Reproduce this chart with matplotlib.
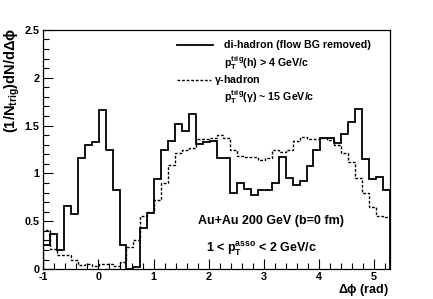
import numpy as np
import matplotlib
matplotlib.use('Agg')
import matplotlib.pyplot as plt
from matplotlib.ticker import MultipleLocator
from matplotlib.lines import Line2D

plt.rcParams['font.family'] = 'Liberation Sans'
plt.rcParams['font.weight'] = 'bold'
plt.rcParams['mathtext.fontset'] = 'custom'
plt.rcParams['mathtext.rm'] = 'Liberation Sans:bold'
plt.rcParams['mathtext.it'] = 'Liberation Sans:bold'
plt.rcParams['mathtext.bf'] = 'Liberation Sans:bold'
plt.rcParams['axes.unicode_minus'] = False

# 50 bins over [-1, 2pi-1]
n_bins = 50
edges = np.linspace(-1.0, 2 * np.pi - 1.0, n_bins + 1)

# di-hadron (flow BG removed)
dihadron = [0.25, 0.37, 0.20, 0.66, 0.58, 1.16, 1.30, 1.33, 1.66, 1.245,
            0.83, 0.25, 0.005, 0.025, 0.425, 0.59, 0.94, 1.25, 1.34, 1.52,
            1.44, 1.62, 1.31, 1.325, 1.34, 1.165, 1.165, 0.80, 0.90, 0.84,
            0.77, 0.83, 0.83, 0.90, 1.175, 0.95, 0.88, 0.92, 1.08, 1.245,
            1.37, 1.37, 1.32, 1.41, 1.54, 1.67, 1.15, 0.94, 0.96, 0.83]

# gamma-hadron
gamma_hadron = [0.41, 0.21, 0.15, 0.15, 0.10, 0.04, 0.05, 0.03, 0.05, 0.05,
                0.03, 0.07, 0.23, 0.30, 0.56, 0.60, 0.72, 0.90, 1.09, 1.21,
                1.24, 1.27, 1.36, 1.36, 1.37, 1.40, 1.37, 1.25, 1.18, 1.17,
                1.175, 1.14, 1.16, 1.24, 1.22, 1.245, 1.34, 1.38, 1.36, 1.36,
                1.37, 1.35, 1.30, 1.21, 1.12, 0.95, 0.80, 0.65, 0.555, 0.54]

W, H = 433, 299
fig = plt.figure(figsize=(W / 100, H / 100), dpi=100)
ax = fig.add_axes([0.1, 0.1, 0.8, 0.8])

ax.stairs(dihadron, edges, color='black', lw=1.3)
ax.stairs(gamma_hadron, edges, color='black', lw=1.0, ls=(0, (2, 1.3)))

ax.set_xlim(edges[0], edges[-1])
ax.set_ylim(0, 2.5)
ax.xaxis.set_major_locator(MultipleLocator(1))
ax.xaxis.set_minor_locator(MultipleLocator(0.2))
ax.yaxis.set_major_locator(MultipleLocator(0.5))
ax.yaxis.set_minor_locator(MultipleLocator(0.1))
ax.yaxis.set_major_formatter(matplotlib.ticker.FuncFormatter(lambda v, p: '%g' % v))
ax.tick_params(which='both', direction='in', top=False, right=False, labelsize=7.8, width=0.8)
ax.tick_params(which='major', length=7.5)
ax.tick_params(which='minor', length=4)
ax.tick_params(axis='x', pad=2)
ax.tick_params(axis='y', pad=3)
for s in ax.spines.values():
    s.set_linewidth(0.9)

fig.text(12 / W, 1 - 28 / H, r'(1/N$_{\rm trig}$)dN/d$\Delta\phi$', rotation=90,
         ha='center', va='top', fontsize=10.5)
fig.text(389 / W, 1 - 293 / H, r'$\Delta\phi$ (rad)', ha='right', va='baseline', fontsize=9)

# legend
def px(x, y):
    return x / W, 1 - y / H

fig.add_artist(Line2D([177 / W, 213 / W], [1 - 45 / H] * 2, color='black', lw=1.3))
fig.add_artist(Line2D([177 / W, 211 / W], [1 - 80 / H] * 2, color='black', lw=1.0, ls=(0, (2, 1.3))))
fig.text(*px(224, 48.5), 'di-hadron (flow BG removed)', fontsize=7.7, va='baseline')
fig.text(*px(224, 67.5), r'p$_{\rm T}^{\rm trig}$(h) > 4 GeV/c', fontsize=7.7, va='baseline')
fig.text(*px(214, 83.5), r'$\gamma$-hadron', fontsize=7.7, va='baseline')
fig.text(*px(224, 101.5), r'p$_{\rm T}^{\rm trig}$($\gamma$) ~ 15 GeV/c', fontsize=7.7, va='baseline')

fig.text(*px(198, 224), 'Au+Au 200 GeV (b=0 fm)', fontsize=9, va='baseline')
fig.text(*px(206, 252), r'1 < p$_{\rm T}^{\rm asso}$ < 2 GeV/c', fontsize=9, va='baseline')

fig.savefig('out.png', dpi=100)
